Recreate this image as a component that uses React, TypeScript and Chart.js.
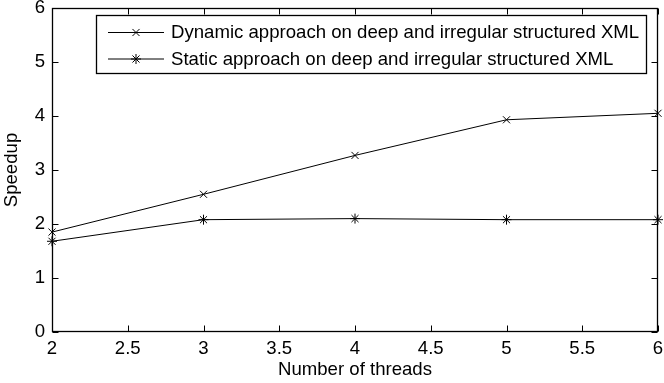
import React, { useEffect, useRef } from 'react';
import { Chart, registerables } from 'chart.js';

Chart.register(...registerables);

const FONT_FAMILY = '"Liberation Sans", Arial, Helvetica, sans-serif';
const FONT_SIZE = 18.6;

const threads = [2, 3, 4, 5, 6];
const dynamicSpeedup = [1.85, 2.55, 3.27, 3.93, 4.05];
const staticSpeedup = [1.68, 2.08, 2.1, 2.08, 2.08];
const seriesLabels = [
  'Dynamic approach on deep and irregular structured XML',
  'Static approach on deep and irregular structured XML',
];
const seriesMarkers = ['crossRot', 'star'];
const xTickValues = [2, 2.5, 3, 3.5, 4, 4.5, 5, 5.5, 6];
const yTickValues = [0, 1, 2, 3, 4, 5, 6];
const xTitle = 'Number of threads';
const yTitle = 'Speedup';

function drawMarker(ctx: CanvasRenderingContext2D, style: string, x: number, y: number, r: number) {
  ctx.save();
  ctx.strokeStyle = '#000';
  ctx.lineWidth = 1;
  ctx.beginPath();
  const d = Math.cos(Math.PI / 4) * r;
  if (style === 'star') {
    ctx.moveTo(x, y - r);
    ctx.lineTo(x, y + r);
    ctx.moveTo(x - r, y);
    ctx.lineTo(x + r, y);
  }
  ctx.moveTo(x - d, y - d);
  ctx.lineTo(x + d, y + d);
  ctx.moveTo(x - d, y + d);
  ctx.lineTo(x + d, y - d);
  ctx.stroke();
  ctx.restore();
}

const frameTicks = {
  id: 'frameTicks',
  afterDatasetsDraw(chart: any) {
    const { ctx, chartArea } = chart;
    const xs = chart.scales.x;
    const ys = chart.scales.y;
    const L = Math.round(chartArea.left) + 0.5;
    const R = Math.round(chartArea.right) - 0.5;
    const T = Math.round(chartArea.top) + 0.5;
    const B = Math.round(chartArea.bottom) - 0.5;
    const len = 6;
    ctx.save();
    ctx.strokeStyle = '#000';
    ctx.lineWidth = 1;
    ctx.beginPath();
    xTickValues.forEach((v) => {
      const px = Math.round(xs.getPixelForValue(v)) + 0.5;
      ctx.moveTo(px, B);
      ctx.lineTo(px, B - len);
      ctx.moveTo(px, T);
      ctx.lineTo(px, T + len);
    });
    yTickValues.forEach((v) => {
      const py = Math.round(ys.getPixelForValue(v)) + 0.5;
      ctx.moveTo(L, py);
      ctx.lineTo(L + len, py);
      ctx.moveTo(R, py);
      ctx.lineTo(R - len, py);
    });
    ctx.stroke();
    ctx.lineWidth = 1.3;
    ctx.strokeRect(L, T, R - L, B - T);
    ctx.restore();
  },
};

const boxLegend = {
  id: 'boxLegend',
  afterDraw(chart: any) {
    const { ctx } = chart;
    const bx = 96.5;
    const by = 15.5;
    const bw = 550;
    const bh = 58;
    ctx.save();
    ctx.fillStyle = '#fff';
    ctx.fillRect(bx, by, bw, bh);
    ctx.strokeStyle = '#000';
    ctx.lineWidth = 1.3;
    ctx.strokeRect(bx, by, bw, bh);
    const rows = [32.5, 59];
    chart.data.datasets.forEach((ds: any, i: number) => {
      const y = rows[i];
      ctx.strokeStyle = ds.borderColor;
      ctx.lineWidth = 1;
      ctx.beginPath();
      ctx.moveTo(108, y);
      ctx.lineTo(164, y);
      ctx.stroke();
      drawMarker(ctx, ds.pointStyle, 136, y, ds.pointRadius);
      ctx.fillStyle = '#000';
      ctx.font = `${FONT_SIZE}px ${FONT_FAMILY}`;
      ctx.textBaseline = 'middle';
      ctx.textAlign = 'left';
      ctx.fillText(ds.label, 171, y + 0.5);
    });
    ctx.restore();
  },
};

export default function App() {
  const canvasRef = useRef<HTMLCanvasElement | null>(null);

  useEffect(() => {
    document.body.style.margin = '0';
    const canvas = canvasRef.current;
    if (!canvas) return;
    const series = [dynamicSpeedup, staticSpeedup];
    const chart = new Chart(canvas, {
      type: 'scatter',
      data: {
        datasets: series.map((vals, i) => ({
          label: seriesLabels[i],
          data: threads.map((t, j) => ({ x: t, y: vals[j] })),
          showLine: true,
          borderColor: '#000',
          backgroundColor: '#000',
          borderWidth: 1,
          pointStyle: seriesMarkers[i],
          pointRadius: 5,
          pointBorderWidth: 1,
          pointBorderColor: '#000',
          pointHoverRadius: 5,
          clip: false,
        })),
      },
      options: {
        responsive: false,
        animation: false,
        events: [],
        layout: { padding: { top: 8, right: 3, left: 0, bottom: 0 } },
        plugins: {
          legend: { display: false },
          tooltip: { enabled: false },
        },
        scales: {
          x: {
            type: 'linear',
            min: 2,
            max: 6,
            grid: { display: false, drawTicks: false },
            border: { display: false },
            afterBuildTicks: (scale: any) => {
              scale.ticks = xTickValues.map((v) => ({ value: v }));
            },
            afterFit: (scale: any) => {
              scale.height = 51;
              scale.paddingLeft = 0;
              scale.paddingRight = 0;
            },
            ticks: {
              padding: 6,
              color: '#000',
              maxRotation: 0,
              autoSkip: false,
              callback: (v: any) => String(v),
              font: { family: FONT_FAMILY, size: FONT_SIZE },
            },
            title: {
              display: true,
              text: xTitle,
              color: '#000',
              padding: { top: 0, bottom: 2 },
              font: { family: FONT_FAMILY, size: FONT_SIZE },
            },
          },
          y: {
            type: 'linear',
            min: 0,
            max: 6,
            grid: { display: false, drawTicks: false },
            border: { display: false },
            afterBuildTicks: (scale: any) => {
              scale.ticks = yTickValues.map((v) => ({ value: v }));
            },
            afterFit: (scale: any) => {
              scale.width = 52;
              scale.paddingTop = 0;
              scale.paddingBottom = 0;
            },
            ticks: {
              padding: 7,
              color: '#000',
              autoSkip: false,
              callback: (v: any) => String(v),
              font: { family: FONT_FAMILY, size: FONT_SIZE },
            },
            title: {
              display: true,
              text: yTitle,
              color: '#000',
              padding: { top: 1, bottom: 0 },
              font: { family: FONT_FAMILY, size: FONT_SIZE },
            },
          },
        },
      },
      plugins: [frameTicks, boxLegend],
    } as any);
    return () => chart.destroy();
  }, []);

  return (
    <div style={{ position: 'absolute', left: 0, top: 0, width: 664, height: 383, background: '#fff' }}>
      <canvas ref={canvasRef} width={664} height={383} />
    </div>
  );
}
